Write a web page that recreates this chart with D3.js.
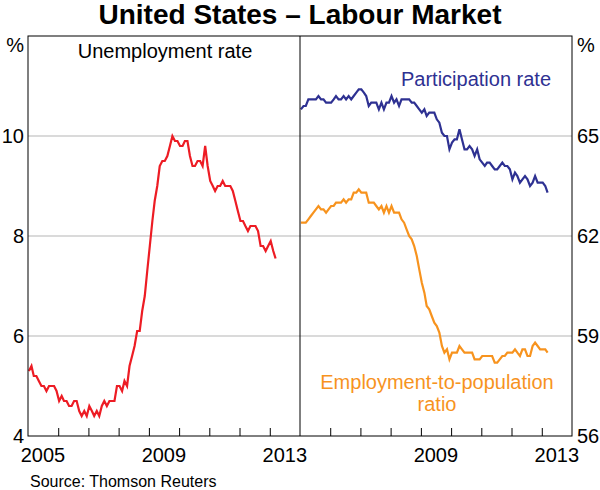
<!doctype html>
<html>
<head>
<script src="https://d3js.org/d3.v7.min.js"></script>
<style>
  body { margin: 0; background: #fff; }
  svg text { font-family: "Liberation Sans", Arial, sans-serif; }
</style>
</head>
<body>
<svg id="chart" width="600" height="490"></svg>
<script>
// monthly, Jan 2005 - Mar 2013
var unemployment = [
  5.3, 5.4, 5.2, 5.2, 5.1, 5.0, 5.0, 4.9, 5.0, 5.0, 5.0, 4.9,
  4.7, 4.8, 4.7, 4.7, 4.6, 4.6, 4.7, 4.7, 4.5, 4.4, 4.5, 4.4,
  4.6, 4.5, 4.4, 4.5, 4.4, 4.6, 4.7, 4.6, 4.7, 4.7, 4.7, 5.0,
  5.0, 4.9, 5.1, 5.0, 5.4, 5.6, 5.8, 6.1, 6.1, 6.5, 6.8, 7.3,
  7.8, 8.3, 8.7, 9.0, 9.4, 9.5, 9.5, 9.6, 9.8, 10.0, 9.9, 9.9,
  9.8, 9.8, 9.9, 9.9, 9.6, 9.4, 9.4, 9.5, 9.5, 9.4, 9.8, 9.4,
  9.1, 9.0, 8.9, 9.0, 9.0, 9.1, 9.0, 9.0, 9.0, 8.9, 8.7, 8.5,
  8.3, 8.3, 8.2, 8.1, 8.2, 8.2, 8.2, 8.1, 7.8, 7.8, 7.7, 7.8,
  7.9, 7.7, 7.55
];
var participation = [
  65.8, 65.9, 65.9, 66.1, 66.1, 66.1, 66.1, 66.2, 66.1, 66.1, 66.0, 66.0,
  66.0, 66.1, 66.2, 66.1, 66.1, 66.2, 66.1, 66.2, 66.1, 66.2, 66.3, 66.4,
  66.4, 66.3, 66.2, 65.9, 66.0, 66.0, 66.0, 65.8, 66.0, 65.8, 66.0, 66.0,
  66.2, 66.0, 66.1, 65.9, 66.1, 66.1, 66.1, 66.1, 66.0, 66.0, 65.9, 65.8,
  65.7, 65.8, 65.6, 65.7, 65.7, 65.7, 65.5, 65.4, 65.1, 65.0, 65.0, 64.6,
  64.8, 64.9, 64.9, 65.2, 64.9, 64.6, 64.6, 64.7, 64.6, 64.4, 64.6, 64.3,
  64.2, 64.1, 64.2, 64.2, 64.1, 64.0, 64.0, 64.1, 64.2, 64.1, 64.1, 64.0,
  63.7, 63.9, 63.8, 63.6, 63.7, 63.8, 63.7, 63.5, 63.6, 63.8, 63.6, 63.6,
  63.6, 63.5, 63.3
];
var employmentPop = [
  62.4, 62.4, 62.4, 62.5, 62.6, 62.7, 62.8, 62.9, 62.8, 62.8, 62.7, 62.8,
  62.9, 62.9, 63.0, 63.0, 63.0, 63.1, 63.0, 63.1, 63.1, 63.3, 63.3, 63.4,
  63.3, 63.3, 63.3, 63.0, 63.0, 63.0, 62.9, 62.8, 62.9, 62.7, 62.9, 62.7,
  62.9, 62.7, 62.7, 62.7, 62.5, 62.4, 62.2, 62.0, 61.9, 61.7, 61.4, 61.0,
  60.6, 60.3, 59.9, 59.8, 59.6, 59.4, 59.3, 59.1, 58.7, 58.5, 58.6, 58.3,
  58.5, 58.5, 58.5, 58.7, 58.6, 58.5, 58.5, 58.5, 58.5, 58.3, 58.3, 58.3,
  58.4, 58.4, 58.4, 58.4, 58.4, 58.2, 58.2, 58.3, 58.4, 58.4, 58.5, 58.5,
  58.5, 58.6, 58.5, 58.4, 58.6, 58.6, 58.4, 58.4, 58.7, 58.8, 58.7, 58.6,
  58.6, 58.6, 58.5
];
var leftTicks = [4, 6, 8, 10];
var rightTicks = [56, 59, 62, 65];
var leftYearLabels = [2005, 2009, 2013];
var rightYearLabels = [2009, 2013];

var svg = d3.select("#chart");
var top_ = 36, bottom = 436, left = 28, mid = 300, right = 572;

var xL = d3.scaleTime().domain([new Date(2005, 0, 1), new Date(2014, 0, 1)]).range([left, mid]);
var xR = d3.scaleTime().domain([new Date(2005, 0, 1), new Date(2014, 0, 1)]).range([mid, right]);
var yL = d3.scaleLinear().domain([4, 12]).range([bottom, top_]);
var yR = d3.scaleLinear().domain([56, 68]).range([bottom, top_]);

function month(i) { return new Date(2005, i, 12); }

// title
svg.append("text").attr("x", 300).attr("y", 24).attr("text-anchor", "middle")
  .attr("font-size", 28).attr("font-weight", "bold").text("United States \u2013 Labour Market");

// gridlines
svg.append("g").selectAll("line").data([6, 8, 10]).enter().append("line")
  .attr("x1", left).attr("x2", right)
  .attr("y1", function(d) { return yL(d); }).attr("y2", function(d) { return yL(d); })
  .attr("stroke", "#b5b5b5").attr("stroke-width", 1);

// year ticks
var tickYears = d3.range(2006, 2014).map(function(y) { return new Date(y, 0, 1); });
[xL, xR].forEach(function(x) {
  var g = svg.append("g").attr("transform", "translate(0," + bottom + ")")
    .call(d3.axisBottom(x).tickValues(tickYears).tickSize(-8).tickFormat(""));
  g.select(".domain").remove();
  g.selectAll("line").attr("stroke", "#000");
});

// lines
var lineU = d3.line().x(function(d, i) { return xL(month(i)); }).y(function(d) { return yL(d); });
var lineR = d3.line().x(function(d, i) { return xR(month(i)); }).y(function(d) { return yR(d); });

svg.append("path").datum(unemployment).attr("d", lineU)
  .attr("fill", "none").attr("stroke", "#ed1c24").attr("stroke-width", 2.2);
svg.append("path").datum(participation).attr("d", lineR)
  .attr("fill", "none").attr("stroke", "#2e3192").attr("stroke-width", 2.2);
svg.append("path").datum(employmentPop).attr("d", lineR)
  .attr("fill", "none").attr("stroke", "#f7931e").attr("stroke-width", 2.2);

// frame
svg.append("rect").attr("x", left).attr("y", top_).attr("width", right - left).attr("height", bottom - top_)
  .attr("fill", "none").attr("stroke", "#000").attr("stroke-width", 1);
svg.append("line").attr("x1", mid).attr("x2", mid).attr("y1", top_).attr("y2", bottom)
  .attr("stroke", "#000").attr("stroke-width", 1);

// y labels
svg.append("g").selectAll("text").data(leftTicks).enter().append("text")
  .attr("x", 24).attr("y", function(d) { return yL(d); }).attr("dy", "0.36em")
  .attr("text-anchor", "end").attr("font-size", 20).text(function(d) { return d; });
svg.append("g").selectAll("text").data(rightTicks).enter().append("text")
  .attr("x", 577).attr("y", function(d) { return yR(d); }).attr("dy", "0.36em")
  .attr("text-anchor", "start").attr("font-size", 20).text(function(d) { return d; });
svg.append("text").attr("x", 24).attr("y", 52).attr("text-anchor", "end").attr("font-size", 20).text("%");
svg.append("text").attr("x", 577).attr("y", 52).attr("text-anchor", "start").attr("font-size", 20).text("%");

// x labels
svg.append("g").selectAll("text").data(leftYearLabels).enter().append("text")
  .attr("x", function(d) { return xL(new Date(d, 6, 1)); }).attr("y", 462)
  .attr("text-anchor", "middle").attr("font-size", 20).text(function(d) { return d; });
svg.append("g").selectAll("text").data(rightYearLabels).enter().append("text")
  .attr("x", function(d) { return xR(new Date(d, 6, 1)); }).attr("y", 462)
  .attr("text-anchor", "middle").attr("font-size", 20).text(function(d) { return d; });

// series labels
svg.append("text").attr("x", 165).attr("y", 58).attr("text-anchor", "middle")
  .attr("font-size", 20).attr("fill", "#000").text("Unemployment rate");
svg.append("text").attr("x", 476).attr("y", 86).attr("text-anchor", "middle")
  .attr("font-size", 20).attr("fill", "#2e3192").text("Participation rate");
svg.append("text").attr("x", 437).attr("y", 389).attr("text-anchor", "middle")
  .attr("font-size", 20).attr("fill", "#f7931e").text("Employment-to-population");
svg.append("text").attr("x", 437).attr("y", 411).attr("text-anchor", "middle")
  .attr("font-size", 20).attr("fill", "#f7931e").text("ratio");

// source
svg.append("text").attr("x", 30).attr("y", 487).attr("font-size", 16).text("Source: Thomson Reuters");
</script>
</body>
</html>
